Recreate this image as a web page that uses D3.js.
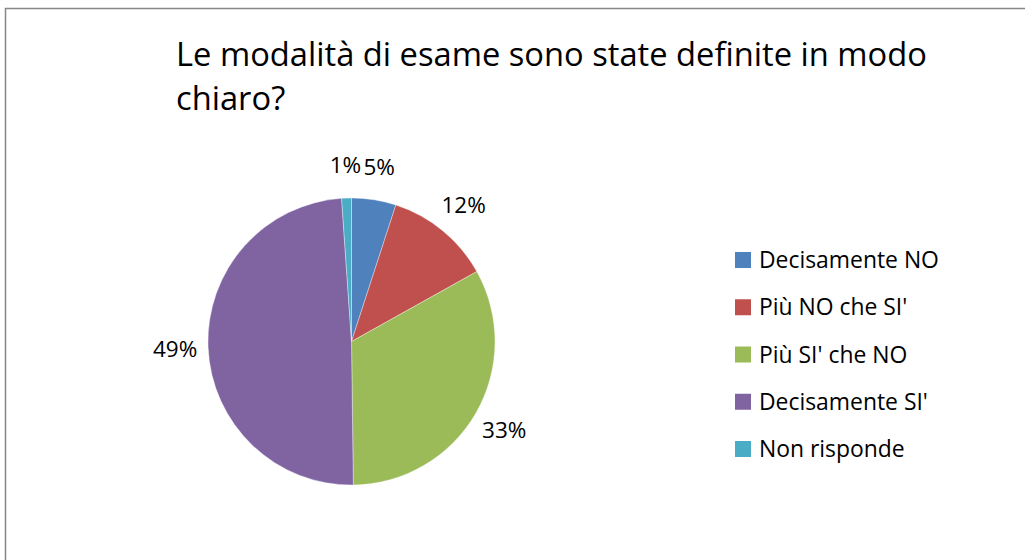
<!DOCTYPE html>
<html>
<head>
<meta charset="utf-8">
<script src="https://cdn.jsdelivr.net/npm/d3@7"></script>
<style>
  body { margin: 0; background: #fff; }
  text { font-family: "Open Sans", Lato, sans-serif; fill: #000; }
</style>
</head>
<body>
<div id="chart"></div>
<script>
(function() {

    var width = 1025,
        height = 560;

    // data
    var categories = ["Decisamente NO", "Più NO che SI'", "Più SI' che NO", "Decisamente SI'", "Non risponde"];
    var values = [5.0, 11.9, 32.9, 49.1, 1.1];
    var valueLabels = ["5%", "12%", "33%", "49%", "1%"];
    var colors = ["#4F81BD", "#C0504D", "#9BBB59", "#8064A2", "#4BACC6"];
    var titleLines = ["Le modalità di esame sono state definite in modo", "chiaro?"];

    var svg = d3.select("#chart")
        .append("svg")
        .attr("width", width)
        .attr("height", height);

    // chart frame (only top and left edges visible)
    svg.append("rect")
        .attr("x", 5.5)
        .attr("y", 8.5)
        .attr("width", width + 20)
        .attr("height", height + 20)
        .attr("fill", "none")
        .attr("stroke", "#868686")
        .attr("stroke-width", 1.5);

    // title
    svg.append("g")
        .selectAll("text")
        .data(titleLines)
        .enter().append("text")
        .attr("x", 176)
        .attr("y", function(d, i) { return 66 + i * 44; })
        .attr("font-size", 32.7)
        .text(function(d) { return d; });

    var cx = 351.5, cy = 341.5, radius = 143.5;

    var pie = d3.pie().sort(null).value(function(d) { return d; });
    var arc = d3.arc().innerRadius(0).outerRadius(radius);
    var labelArc = d3.arc().innerRadius(radius + 33).outerRadius(radius + 33);

    var color = d3.scaleOrdinal().domain(categories).range(colors);

    var g = svg.append("g")
        .attr("transform", "translate(" + cx + "," + cy + ")");

    var slices = pie(values);

    g.selectAll(".slice")
        .data(slices)
        .enter().append("path")
        .attr("class", "slice")
        .attr("d", arc)
        .attr("fill", function(d, i) { return color(categories[i]); })
        .attr("stroke", "#fff")
        .attr("stroke-opacity", 0.5)
        .attr("stroke-width", 0.7);

    g.selectAll(".lbl")
        .data(slices)
        .enter().append("text")
        .attr("class", "lbl")
        .attr("transform", function(d) { return "translate(" + labelArc.centroid(d) + ")"; })
        .attr("text-anchor", "middle")
        .attr("dy", "0.35em")
        .attr("font-size", 22.5)
        .text(function(d, i) { return valueLabels[i]; });

    // legend
    var legendY = d3.scalePoint().domain(categories).range([260, 449]);

    var legend = svg.append("g")
        .selectAll(".legend")
        .data(categories)
        .enter().append("g")
        .attr("class", "legend")
        .attr("transform", function(d) { return "translate(735," + legendY(d) + ")"; });

    legend.append("rect")
        .attr("x", 0)
        .attr("y", -8)
        .attr("width", 16)
        .attr("height", 16)
        .attr("fill", function(d) { return color(d); });

    legend.append("text")
        .attr("x", 24)
        .attr("dy", "0.35em")
        .attr("font-size", 22.9)
        .text(function(d) { return d; });

})();
</script>
</body>
</html>
